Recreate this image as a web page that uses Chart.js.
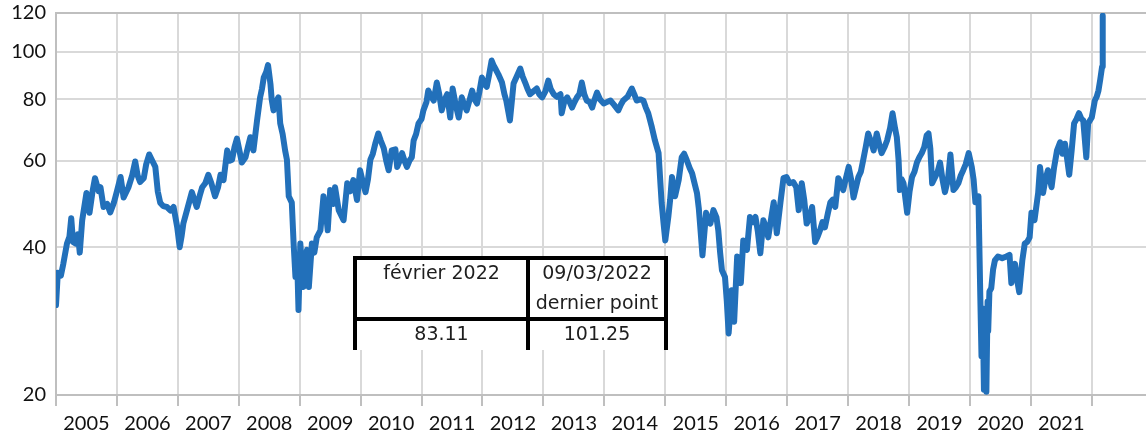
<!DOCTYPE html>
<html>
<head>
<meta charset="utf-8">
<script src="https://cdn.jsdelivr.net/npm/chart.js@4.4.1/dist/chart.umd.min.js"></script>
<style>
  html, body { margin: 0; padding: 0; background: #fff; }
  #wrap { width: 1146px; height: 436px; }
</style>
</head>
<body>
<div id="wrap"><canvas id="brent" width="1146" height="436"></canvas></div>
<script>
// Brent, prix en euros par baril (échelle logarithmique), 2005 - mars 2022
const dates = [
  2005.00, 2005.03, 2005.08, 2005.12, 2005.18, 2005.22, 2005.25, 2005.28, 2005.32, 2005.36,
  2005.39, 2005.43, 2005.50, 2005.55, 2005.60, 2005.64, 2005.70, 2005.73, 2005.78, 2005.84,
  2005.89, 2005.95, 2006.00, 2006.06, 2006.11, 2006.19, 2006.25, 2006.30, 2006.34, 2006.38,
  2006.44, 2006.48, 2006.53, 2006.58, 2006.63, 2006.67, 2006.71, 2006.76, 2006.82, 2006.88,
  2006.93, 2006.99, 2007.03, 2007.06, 2007.09, 2007.15, 2007.23, 2007.27, 2007.31, 2007.36,
  2007.40, 2007.45, 2007.50, 2007.55, 2007.61, 2007.66, 2007.70, 2007.75, 2007.81, 2007.85,
  2007.89, 2007.93, 2007.97, 2008.01, 2008.05, 2008.11, 2008.15, 2008.19, 2008.24, 2008.30,
  2008.35, 2008.38, 2008.41, 2008.45, 2008.48, 2008.50, 2008.52, 2008.54, 2008.57, 2008.61,
  2008.65, 2008.68, 2008.72, 2008.76, 2008.79, 2008.82, 2008.87, 2008.90, 2008.93, 2008.96,
  2008.98, 2009.01, 2009.04, 2009.06, 2009.09, 2009.12, 2009.15, 2009.20, 2009.24, 2009.28,
  2009.34, 2009.39, 2009.43, 2009.46, 2009.50, 2009.55, 2009.58, 2009.64, 2009.72, 2009.78,
  2009.83, 2009.88, 2009.94, 2009.99, 2010.04, 2010.08, 2010.12, 2010.16, 2010.20, 2010.24,
  2010.29, 2010.33, 2010.38, 2010.42, 2010.46, 2010.51, 2010.57, 2010.60, 2010.64, 2010.68,
  2010.72, 2010.76, 2010.80, 2010.84, 2010.87, 2010.91, 2010.95, 2011.00, 2011.03, 2011.08,
  2011.11, 2011.16, 2011.20, 2011.25, 2011.29, 2011.33, 2011.38, 2011.42, 2011.47, 2011.51,
  2011.56, 2011.61, 2011.66, 2011.70, 2011.74, 2011.79, 2011.83, 2011.87, 2011.91, 2011.95,
  2011.99, 2012.03, 2012.07, 2012.11, 2012.15, 2012.18, 2012.21, 2012.26, 2012.32, 2012.36,
  2012.39, 2012.45, 2012.48, 2012.51, 2012.56, 2012.62, 2012.66, 2012.70, 2012.74, 2012.78,
  2012.83, 2012.89, 2012.93, 2012.98, 2013.03, 2013.08, 2013.12, 2013.17, 2013.22, 2013.28,
  2013.30, 2013.34, 2013.39, 2013.43, 2013.47, 2013.51, 2013.55, 2013.59, 2013.63, 2013.67,
  2013.71, 2013.76, 2013.80, 2013.84, 2013.88, 2013.93, 2013.99, 2014.04, 2014.10, 2014.16,
  2014.23, 2014.27, 2014.31, 2014.38, 2014.45, 2014.49, 2014.53, 2014.59, 2014.64, 2014.68,
  2014.72, 2014.78, 2014.83, 2014.89, 2014.92, 2014.94, 2014.97, 2015.00, 2015.05, 2015.08,
  2015.11, 2015.16, 2015.22, 2015.27, 2015.31, 2015.35, 2015.40, 2015.44, 2015.48, 2015.52,
  2015.55, 2015.57, 2015.61, 2015.67, 2015.70, 2015.74, 2015.79, 2015.84, 2015.87, 2015.90,
  2015.93, 2015.98, 2016.01, 2016.04, 2016.09, 2016.13, 2016.18, 2016.24, 2016.28, 2016.34,
  2016.39, 2016.44, 2016.48, 2016.52, 2016.56, 2016.61, 2016.65, 2016.69, 2016.74, 2016.78,
  2016.83, 2016.89, 2016.94, 2016.99, 2017.04, 2017.10, 2017.15, 2017.19, 2017.24, 2017.28,
  2017.32, 2017.37, 2017.41, 2017.46, 2017.50, 2017.54, 2017.58, 2017.62, 2017.67, 2017.71,
  2017.75, 2017.79, 2017.84, 2017.88, 2017.92, 2017.96, 2018.01, 2018.05, 2018.09, 2018.13,
  2018.17, 2018.21, 2018.25, 2018.29, 2018.33, 2018.37, 2018.42, 2018.47, 2018.51, 2018.55,
  2018.60, 2018.64, 2018.69, 2018.73, 2018.77, 2018.80, 2018.83, 2018.85, 2018.88, 2018.91,
  2018.97, 2019.01, 2019.05, 2019.09, 2019.13, 2019.17, 2019.21, 2019.25, 2019.29, 2019.32,
  2019.35, 2019.38, 2019.43, 2019.47, 2019.51, 2019.55, 2019.59, 2019.64, 2019.68, 2019.73,
  2019.77, 2019.81, 2019.85, 2019.89, 2019.93, 2019.98, 2020.03, 2020.06, 2020.09, 2020.14,
  2020.17, 2020.19, 2020.21, 2020.23, 2020.25, 2020.27, 2020.29, 2020.30, 2020.32, 2020.35,
  2020.38, 2020.41, 2020.46, 2020.53, 2020.60, 2020.65, 2020.68, 2020.71, 2020.74, 2020.78,
  2020.81, 2020.86, 2020.90, 2020.94, 2020.98, 2021.01, 2021.06, 2021.12, 2021.15, 2021.20,
  2021.24, 2021.28, 2021.34, 2021.38, 2021.43, 2021.48, 2021.52, 2021.56, 2021.60, 2021.63,
  2021.67, 2021.71, 2021.75, 2021.79, 2021.83, 2021.86, 2021.91, 2021.94, 2022.00, 2022.05,
  2022.08, 2022.11, 2022.14, 2022.17, 2022.175, 2022.180, 2022.184
];

const prices = [
  30.5, 35.5, 35, 37, 40.7, 42, 45.8, 41, 40.7, 42.5,
  39, 45.4, 51.6, 47, 52, 55.3, 52, 53, 48.3, 49,
  47.1, 49.3, 52, 55.6, 50.5, 53, 56, 59.8, 56, 54.3,
  55.3, 59, 61.8, 60, 58.3, 52, 49.3, 48.5, 48.3, 47.5,
  48.3, 43.9, 40, 42, 44.7, 47.6, 51.8, 50, 48.3, 51,
  53, 54, 56.2, 54, 50.8, 53, 56.2, 54.8, 63, 60,
  60.3, 64, 66.6, 63, 59.5, 61, 64, 67, 63, 72.5,
  80.8, 84, 88.7, 91, 94, 90, 86, 80, 76, 79,
  80.8, 71.5, 68, 63, 60.3, 50.8, 49.3, 40.7, 34.8, 37,
  29.8, 40.7, 36, 33.2, 38, 39.5, 33.2, 40.7, 39, 41.9,
  43.3, 50.8, 47, 43.3, 52.3, 49, 53, 47.6, 45.4, 54,
  52, 54.8, 49.9, 57.4, 54, 51.8, 55, 60.3, 62, 65,
  68.2, 66, 63.6, 60, 57.4, 63, 63.3, 58.3, 60, 62.2,
  60, 58.3, 60, 61, 66, 68, 71.5, 73, 76, 79,
  83.4, 81, 79.6, 86.6, 82, 76, 80, 82, 73.5, 84.2,
  78, 73.5, 80.8, 78, 76, 80, 83.4, 80, 78.5, 83,
  88.7, 86, 84.9, 90, 96, 94, 92.5, 90, 86.6, 82,
  79.6, 72.5, 79, 86.2, 89, 92.5, 89, 86.6, 84, 82,
  83, 84.2, 82, 80.8, 83, 87.4, 84, 82, 81, 82,
  75, 79, 80.8, 79, 77, 79, 80.8, 82, 86.6, 82,
  79.6, 79, 77, 80, 82.6, 80, 78.5, 79, 79.6, 78,
  76, 78, 79.6, 81, 84.2, 82, 79.6, 80, 79.6, 77,
  75, 70.2, 66, 62.2, 54, 49.3, 45, 41.3, 46.1, 50,
  55.6, 50.8, 54.8, 61, 62, 60.3, 58, 56.6, 54, 51.6,
  48, 44.7, 38.5, 47, 45, 44.7, 47.6, 46, 43.3, 39,
  35.9, 34.8, 31, 26.7, 32.7, 28.2, 38.3, 33.8, 41.3, 39.5,
  46.1, 45, 46.1, 43, 38.9, 45.4, 44, 41.9, 46, 49.4,
  42.7, 49.3, 55.3, 55.6, 54, 54.3, 53, 47.6, 54, 50,
  44.7, 46, 48.3, 41, 42, 43.3, 45, 43.9, 47, 49.4,
  50, 48.3, 55.3, 54, 52.3, 55, 58.3, 55, 50.5, 53,
  55.6, 57, 60.3, 64, 68.2, 66, 63, 68.2, 65, 62.2,
  64, 66, 70, 75, 70, 67, 60, 52.3, 55, 54,
  47, 52, 55.6, 57, 59.5, 61, 62.2, 64, 67.6, 68.2,
  63.6, 54, 55.6, 57, 59.5, 55, 51.8, 55, 61.8, 52.3,
  53, 54, 56, 57.4, 59, 62.2, 58.3, 55, 49.4, 50.8,
  31.9, 24, 30, 20.5, 29, 20.3, 31, 27, 32.5, 33,
  36, 37.6, 38.3, 38, 38.3, 38.6, 33.8, 36, 37, 34,
  32.4, 37.6, 40.7, 41, 41.9, 47, 45.4, 51.6, 58.3, 51.6,
  55, 57.4, 53, 58, 63, 65.4, 62, 65, 60, 56.2,
  63, 71.5, 73, 75, 73, 72.5, 61, 71.5, 73.5, 79.6,
  81, 83.4, 88, 93.4, 101.5, 118.5, 101.25
];

const yTicks = [20, 40, 60, 80, 100, 120];
const yearLabels = [2005, 2006, 2007, 2008, 2009, 2010, 2011, 2012, 2013,
                    2014, 2015, 2016, 2017, 2018, 2019, 2020, 2021];
const yearLines = [2005, 2006, 2007, 2008, 2009, 2010, 2011, 2012, 2013,
                   2014, 2015, 2016, 2017, 2018, 2019, 2020, 2021, 2022];

const tableHead = [['février 2022'], ['09/03/2022', 'dernier point']];
const tableValues = ['83.11', '101.25'];

const gridGrey = '#d9d9d9';
const axisGrey = '#bfbfbf';
const axisFont = { family: 'Lato', size: 20 };

// encadré "février 2022 / dernier point" posé sur le graphique
const summaryBox = {
  id: 'summaryBox',
  afterDatasetsDraw(chart) {
    const c = chart.ctx;
    const left = 355, mid = 528, right = 666, top = 258, sep = 319, bottom = 350;
    c.save();
    c.fillStyle = '#fff';
    c.fillRect(left, top, right - left, bottom - top);
    c.strokeStyle = '#000';
    c.lineWidth = 4;
    c.beginPath();
    c.moveTo(left, bottom); c.lineTo(left, top); c.lineTo(right, top); c.lineTo(right, bottom);
    c.moveTo(mid, top); c.lineTo(mid, bottom);
    c.moveTo(left, sep); c.lineTo(right, sep);
    c.stroke();
    c.fillStyle = '#1e1e1e';
    c.font = '19px "DejaVu Sans"';
    c.textAlign = 'center';
    c.textBaseline = 'middle';
    const cx = [(left + mid) / 2, (mid + right) / 2];
    tableHead.forEach((lines, i) => {
      lines.forEach((t, j) => c.fillText(t, cx[i], 274 + j * 30));
    });
    tableValues.forEach((t, i) => c.fillText(t, cx[i], 335));
    c.restore();
  }
};

const ctx = document.getElementById('brent').getContext('2d');
new Chart(ctx, {
  type: 'line',
  data: {
    datasets: [{
      data: dates.map((d, i) => ({ x: d, y: prices[i] })),
      borderColor: '#2270ba',
      borderWidth: 6,
      pointRadius: 0,
      tension: 0,
      borderJoinStyle: 'round',
      borderCapStyle: 'round',
      fill: false
    }]
  },
  options: {
    responsive: false,
    animation: false,
    devicePixelRatio: 1,
    layout: { padding: { top: 13, right: 0, bottom: 0, left: 0 } },
    plugins: {
      legend: { display: false },
      tooltip: { enabled: false }
    },
    scales: {
      x: {
        type: 'linear',
        min: 2005,
        max: 2022.89,
        afterBuildTicks: (s) => {
          const t = yearLines.map(v => ({ value: v }))
            .concat(yearLabels.map(v => ({ value: v + 0.5 })));
          s.ticks = t.sort((a, b) => a.value - b.value);
        },
        afterFit: (s) => { s.height = 41; s.paddingLeft = 0; s.paddingRight = 0; },
        grid: {
          color: (c) => (c.tick && Number.isInteger(c.tick.value)) ? gridGrey : 'rgba(0,0,0,0)',
          tickColor: (c) => (c.tick && Number.isInteger(c.tick.value)) ? axisGrey : 'rgba(0,0,0,0)',
          lineWidth: 2,
          tickLength: 11
        },
        border: { color: axisGrey, width: 2 },
        ticks: {
          autoSkip: false,
          maxRotation: 0,
          padding: 6,
          color: '#111',
          font: axisFont,
          callback: (v) => Number.isInteger(v) ? '' : String(Math.floor(v))
        }
      },
      y: {
        type: 'logarithmic',
        min: 20,
        max: 120,
        afterBuildTicks: (s) => { s.ticks = yTicks.map(v => ({ value: v })); },
        afterFit: (s) => { s.width = 56; s.paddingTop = 0; s.paddingBottom = 0; },
        grid: {
          color: (c) => (c.tick && c.tick.value === 120) ? axisGrey : gridGrey,
          lineWidth: 2,
          drawTicks: false
        },
        border: { color: axisGrey, width: 2 },
        ticks: {
          padding: 10,
          color: '#111',
          font: axisFont,
          callback: (v) => String(v)
        }
      }
    }
  },
  plugins: [summaryBox]
});
</script>
</body>
</html>
